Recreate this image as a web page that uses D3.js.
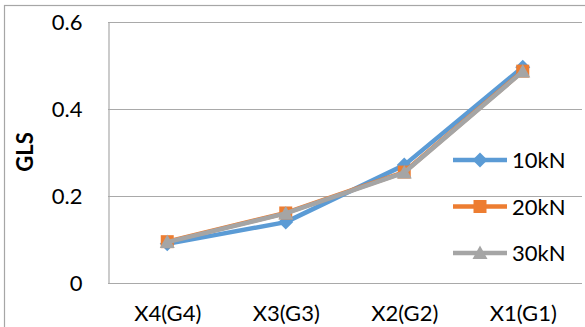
<!DOCTYPE html>
<html>
<head>
<meta charset="utf-8">
<script src="https://cdn.jsdelivr.net/npm/d3@7"></script>
<style>
  html, body { margin: 0; padding: 0; background: #fff; }
  svg { display: block; }
  text { font-family: Lato, "Noto Sans", sans-serif; fill: #000; }
</style>
</head>
<body>
<svg id="chart" width="585" height="327"></svg>
<script>
// Categories along the x axis
const categories = ["X4(G4)", "X3(G3)", "X2(G2)", "X1(G1)"];
// GLS per load level
const series10kN = [0.090, 0.140, 0.271, 0.496];
const series20kN = [0.095, 0.161, 0.255, 0.487];
const series30kN = [0.094, 0.160, 0.254, 0.486];
const seriesNames = ["10kN", "20kN", "30kN"];
const yTicks = [0, 0.2, 0.4, 0.6];
const yTickLabels = ["0", "0.2", "0.4", "0.6"];
const yTitle = "GLS";

const seriesList = [
  { name: seriesNames[0], values: series10kN, color: "#5B9BD5", marker: "diamond" },
  { name: seriesNames[1], values: series20kN, color: "#ED7D31", marker: "square" },
  { name: seriesNames[2], values: series30kN, color: "#A5A5A5", marker: "triangle" }
];

const svg = d3.select("#chart");
const plot = { left: 108, right: 582, top: 22, bottom: 283 };

// Outer chart frame (runs past the right and bottom edges)
svg.append("rect")
  .attr("x", 4.5).attr("y", 5.5)
  .attr("width", 700).attr("height", 500)
  .attr("fill", "none").attr("stroke", "#A6A6A6").attr("stroke-width", 1.2);

const x = d3.scalePoint().domain(categories).range([plot.left, plot.right]).padding(0.5);
const y = d3.scaleLinear().domain([0, 0.6]).range([plot.bottom, plot.top]);

// Horizontal gridlines
svg.append("g")
  .selectAll("line")
  .data(yTicks.slice(1))
  .join("line")
  .attr("x1", plot.left).attr("x2", plot.right)
  .attr("y1", d => Math.round(y(d)) + 0.5).attr("y2", d => Math.round(y(d)) + 0.5)
  .attr("stroke", "#A9A9A9").attr("stroke-width", 1.2);

// Value axis
const yAxis = svg.append("g")
  .attr("transform", `translate(${plot.left + 0.5},0)`)
  .call(d3.axisLeft(y).tickValues(yTicks).tickSize(0).tickPadding(26)
    .tickFormat((d, i) => yTickLabels[i]));
yAxis.select(".domain").attr("stroke", "#A9A9A9").attr("stroke-width", 1.2);
yAxis.selectAll("text")
  .style("font-family", "Lato, 'Noto Sans', sans-serif")
  .style("font-size", "22px")
  .attr("dy", "0.36em")
  .attr("fill", "#000");

// Category axis
const xAxis = svg.append("g")
  .attr("transform", `translate(0,${plot.bottom + 0.5})`)
  .call(d3.axisBottom(x).tickSize(0).tickPadding(0));
xAxis.select(".domain").attr("d", `M${plot.left},0H${plot.right}`)
  .attr("stroke", "#A9A9A9").attr("stroke-width", 1.2);
xAxis.selectAll("text")
  .style("font-family", "Lato, 'Noto Sans', sans-serif")
  .style("font-size", "22px")
  .attr("y", 37.5).attr("dy", 0)
  .attr("fill", "#000");

// Axis title
svg.append("text")
  .attr("transform", `translate(33,152) rotate(-90)`)
  .attr("text-anchor", "middle")
  .style("font-size", "22px")
  .style("font-weight", "bold")
  .text(yTitle);

// Marker shapes
function markerPath(type) {
  if (type === "diamond") return "M0,-7.5L7.5,0L0,7.5L-7.5,0Z";
  if (type === "square") return "M-6.5,-6.5H6.5V6.5H-6.5Z";
  return "M0,-7.5L7.5,6L-7.5,6Z";
}

const line = d3.line()
  .x((d, i) => x(categories[i]))
  .y(d => y(d));

const seriesG = svg.append("g");
seriesList.forEach(s => {
  const g = seriesG.append("g");
  g.append("path")
    .attr("d", line(s.values))
    .attr("fill", "none")
    .attr("stroke", s.color)
    .attr("stroke-width", 4.5)
    .attr("stroke-linejoin", "round");
  g.selectAll("path.mk")
    .data(s.values)
    .join("path")
    .attr("class", "mk")
    .attr("transform", (d, i) => `translate(${x(categories[i])},${y(d)})`)
    .attr("d", markerPath(s.marker))
    .attr("fill", s.color);
});

// Legend
const legend = svg.append("g");
seriesList.forEach((s, i) => {
  const ly = 160 + i * 46.5;
  const g = legend.append("g").attr("transform", `translate(0,${ly})`);
  g.append("line")
    .attr("x1", 453).attr("x2", 507)
    .attr("stroke", s.color).attr("stroke-width", 4.5);
  g.append("path")
    .attr("transform", "translate(480,0)")
    .attr("d", markerPath(s.marker))
    .attr("fill", s.color);
  g.append("text")
    .attr("x", 512).attr("y", 8)
    .style("font-size", "22px")
    .text(s.name);
});
</script>
</body>
</html>
